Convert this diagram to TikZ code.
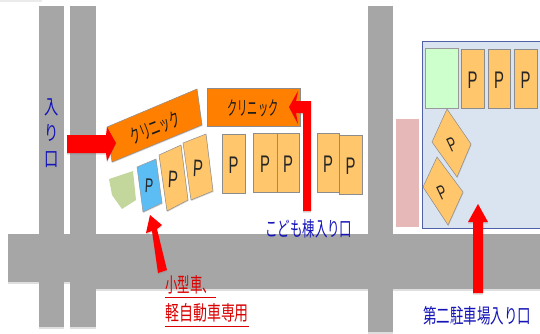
\documentclass[tikz,border=0pt]{standalone}
\usepackage{fontspec}
\setmainfont{Noto Sans CJK JP}
\newfontfamily\psans{Liberation Sans}
\usetikzlibrary{shadows,calc}
\definecolor{road}{HTML}{A6A6A6}
\definecolor{park}{HTML}{FFC66B}
\definecolor{clin}{HTML}{FF8000}
\definecolor{lot}{HTML}{DAE3F0}
\definecolor{lotedge}{HTML}{5060A8}
\definecolor{lawn}{HTML}{CCFFCC}
\definecolor{kei}{HTML}{5CBDF5}
\definecolor{shrub}{HTML}{C3D69B}
\definecolor{pinkbox}{HTML}{E6B8B8}
\definecolor{bluetxt}{HTML}{1414B8}
\newcommand{\bigP}{\scalebox{.62}[1]{P}}
\newcommand{\squeeze}[2]{\scalebox{#1}[1.35]{#2}}
\tikzset{
  x=1pt,y=-1pt,
  roadbar/.style={fill=road,draw=none,drop shadow={shadow xshift=0pt,shadow yshift=-1.5pt,opacity=.25}},
  stall/.style={fill=park,draw=black!45,line width=.5pt,drop shadow={shadow xshift=.5pt,shadow yshift=-1pt,opacity=.3}},
  clinic/.style={fill=clin,draw=black!45,line width=.5pt,drop shadow={shadow xshift=.5pt,shadow yshift=-1pt,opacity=.3}},
  redarrow/.style={fill=red,draw=none,drop shadow={shadow xshift=0pt,shadow yshift=-1.5pt,opacity=.3}},
  ptext/.style={font=\psans\fontsize{24}{24}\selectfont,inner sep=0pt,text=black!85},
  psmall/.style={font=\psans\fontsize{20}{20}\selectfont,inner sep=0pt,text=black!85},
  cltext/.style={font=\fontsize{14}{15}\selectfont,inner sep=0pt,text=black!90},
  bluelabel/.style={font=\fontsize{15}{16}\selectfont,inner sep=0pt,text=bluetxt},
  redlabel/.style={font=\fontsize{15}{16}\selectfont,inner sep=0pt,text=red!85!black},
}
\begin{document}
\begin{tikzpicture}
\useasboundingbox (0,0) rectangle (540,333);
% faint top-left shape
\fill[black!8] (0,0) rectangle (42,2);
% roads
\path[roadbar] (8,234) rectangle (70,282);
\path[roadbar] (96,234) rectangle (540,289);
\path[roadbar] (39,6) rectangle (64,327);
\path[roadbar] (70,6) rectangle (96,327);
\fill[road] (64,234) rectangle (70,282);
\fill[road] (90,234) rectangle (100,289);
\path[roadbar] (368,6) rectangle (393,332);
% pink box and second lot
\fill[pinkbox] (396,119) rectangle (419,227);
\draw[fill=lot,draw=lotedge,line width=.7pt] (422.5,41.5) rectangle (545,228);
\draw[fill=lawn,draw=black!40,line width=.5pt] (425,48) rectangle (458,108);
% lot stalls
\foreach \a/\b in {461/484,488/510,514/537}{
  \draw[stall] (\a,49) rectangle (\b,108);
  \node[ptext] at ({(\a+\b)/2},80) {\bigP};
}
\draw[stall] (447,109) -- (471,144) -- (457,177) -- (432,142) -- cycle;
\node[psmall,rotate=25] at (452,145) {\bigP};
\draw[stall] (437,157) -- (463,192) -- (448,225) -- (423,187) -- cycle;
\node[psmall,rotate=25] at (442,193) {\bigP};
% clinics
\draw[clinic] (107,127) -- (197,89) -- (202,125) -- (112,162) -- cycle;
\node[cltext,rotate=22] at (155,128) {\scalebox{.75}[1.4]{クリニック}};
\draw[clinic] (207,88) rectangle (300,126);
\node[cltext] at (253,108) {\scalebox{.73}[1.4]{クリニック}};
% shrub
\fill[shrub] (109,179) -- (133,171) -- (136,200) -- (122,209) -- (112,195) -- cycle;
% angled stalls
\draw[fill=kei,draw=black!40,line width=.5pt,drop shadow={shadow xshift=.5pt,shadow yshift=-1pt,opacity=.3}] (137,167) -- (156,159) -- (162,203) -- (143,212) -- cycle;
\node[psmall,rotate=-3] at (149,186) {\bigP};
\draw[stall] (159,155) -- (181,145) -- (188,200) -- (167,211) -- cycle;
\node[ptext,rotate=-3] at (173,180) {\bigP};
\draw[stall] (183,143) -- (206,134) -- (213,191) -- (191,200) -- cycle;
\node[ptext,rotate=-3] at (198,169) {\bigP};
% straight stalls
\foreach \a/\b/\t in {222/245/134,253/277/133,277/299/133,317/339/133,339/362/135}{
  \draw[stall] (\a,\t) rectangle (\b,\t+59);
  \node[ptext] at ({(\a+\b)/2},\t+31) {\bigP};
}
% red arrows
\path[redarrow] (67,135) -- (106,135) -- (107,127) -- (116,143) -- (107,161) -- (106,153) -- (67,153) -- cycle;
\path[redarrow] (303,211) -- (303,113) -- (296,113) -- (298,124) -- (289,107) -- (298,91) -- (296,101) -- (311,101) -- (311,211) -- cycle;
\path[redarrow] (158,273) -- (152,231) -- (146,233) -- (150,215) -- (162,225) -- (157,229) -- (167,270) -- cycle;
\path[redarrow] (473,293) -- (473,222) -- (468,222) -- (478,204) -- (488,222) -- (483,222) -- (483,293) -- cycle;
% labels
\node[bluelabel,font=\fontsize{15}{26}\selectfont,align=center] at (52,133) {\squeeze{.95}{入}\\\squeeze{.95}{り}\\\squeeze{.95}{口}};
\node[bluelabel,anchor=west] at (265,229) {\squeeze{.83}{こども棟入り口}};
\node[bluelabel,anchor=west] at (423,316) {\squeeze{.9}{第二駐車場入り口}};
\node[redlabel,anchor=west] at (165,285) {\squeeze{.83}{小型車、}};
\node[redlabel,anchor=west] at (165,313) {\squeeze{.93}{軽自動車専用}};
\draw[red!85!black,line width=.9pt] (165,297) -- (216,297);
\draw[red!85!black,line width=.9pt] (165,326) -- (249,326);
\end{tikzpicture}
\end{document}
